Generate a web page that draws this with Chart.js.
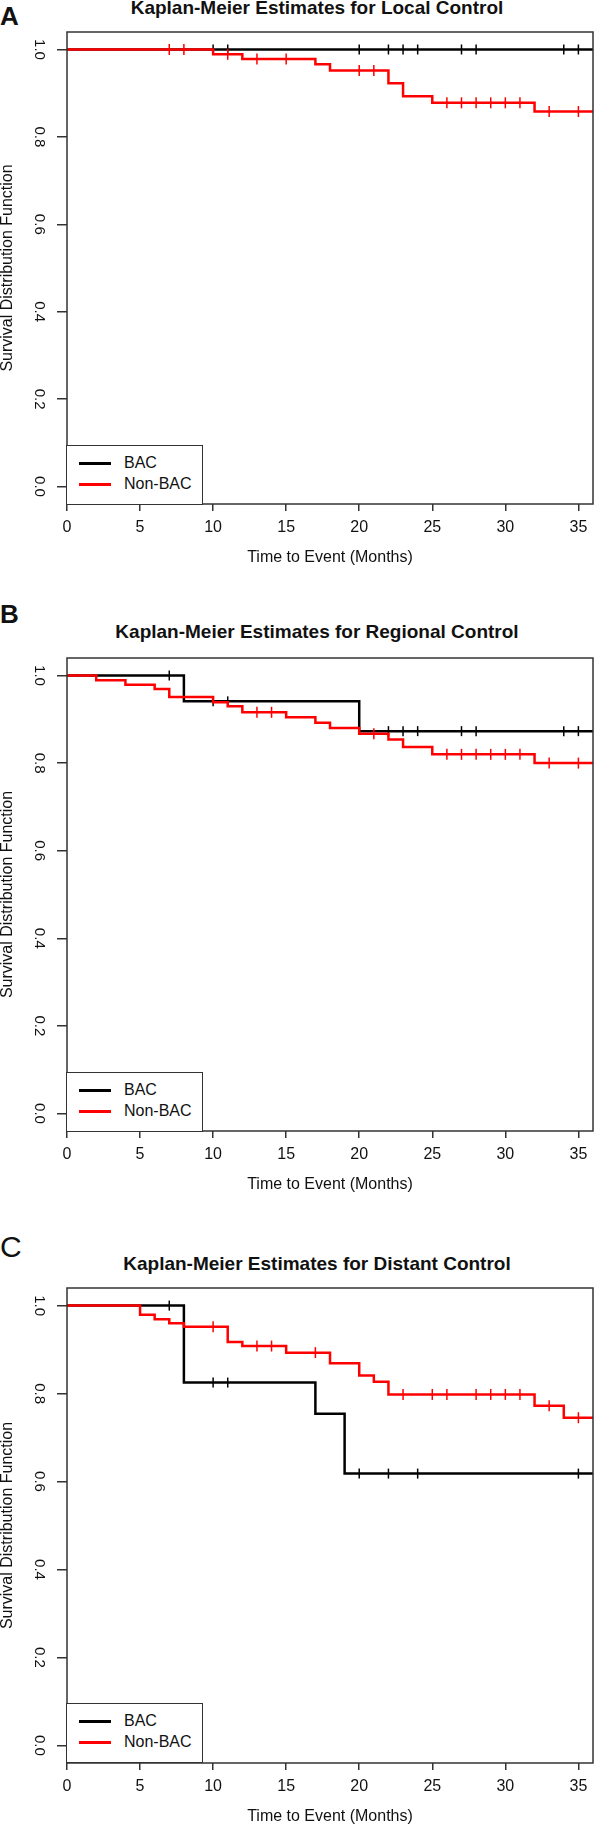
<!DOCTYPE html>
<html>
<head>
<meta charset="utf-8">
<script src="https://cdn.jsdelivr.net/npm/chart.js@4.4.1/dist/chart.umd.min.js"></script>
<style>
body{margin:0;background:#fff;}
#page{position:relative;width:600px;height:1826px;overflow:hidden;font-family:"Liberation Sans",Arial,sans-serif;color:#111;}
canvas{position:absolute;left:0;}
.letter{position:absolute;left:0;font-weight:bold;font-size:26px;line-height:26px;}
.ttl{position:absolute;left:17px;width:600px;text-align:center;font-size:19px;line-height:19px;font-weight:bold;white-space:nowrap;}
.leg{position:absolute;left:66px;width:137px;height:60px;border:1.5px solid #333;box-sizing:border-box;background:#fff;}
.sw{position:absolute;left:12px;width:32px;height:2.5px;}
.lt{position:absolute;left:57px;font-size:16px;line-height:16px;}
</style>
</head>
<body>
<div id="page">
  <div class="letter" style="top:3px;">A</div>
  <div class="ttl" style="top:-2px;">Kaplan-Meier Estimates for Local Control</div>
  <canvas id="chartA" width="600" height="567" style="top:0px;"></canvas>
  <div class="leg" style="top:445px;">
    <div class="sw" style="top:16px;background:#000;"></div><div class="lt" style="top:9px;">BAC</div>
    <div class="sw" style="top:37px;background:#ff0000;"></div><div class="lt" style="top:30px;">Non-BAC</div>
  </div>

  <div class="letter" style="top:601px;">B</div>
  <div class="ttl" style="top:622px;">Kaplan-Meier Estimates for Regional Control</div>
  <canvas id="chartB" width="600" height="594" style="top:600px;"></canvas>
  <div class="leg" style="top:1072px;">
    <div class="sw" style="top:16px;background:#000;"></div><div class="lt" style="top:9px;">BAC</div>
    <div class="sw" style="top:37px;background:#ff0000;"></div><div class="lt" style="top:30px;">Non-BAC</div>
  </div>

  <div class="letter" style="top:1232px;font-weight:normal;font-size:30px;line-height:30px;">C</div>
  <div class="ttl" style="top:1254px;">Kaplan-Meier Estimates for Distant Control</div>
  <canvas id="chartC" width="600" height="606" style="top:1220px;"></canvas>
  <div class="leg" style="top:1703px;">
    <div class="sw" style="top:16px;background:#000;"></div><div class="lt" style="top:9px;">BAC</div>
    <div class="sw" style="top:37px;background:#ff0000;"></div><div class="lt" style="top:30px;">Non-BAC</div>
  </div>
</div>

<script>
/*  Kaplan-Meier curves, BAC vs Non-BAC  */

const xTicks=[0,5,10,15,20,25,30,35];
const yTicks=[0,0.2,0.4,0.6,0.8,1.0];
const groups=["BAC","Non-BAC"];

// A - local control
const localBacTime=[0,36];
const localBacSurv=[1,1];
const localBacCens=[10,11,20,22,23,24,27,28,34,35];
const localNonTime=[0,10,12,17,18,22,23,25,32,36];
const localNonSurv=[1,0.989,0.978,0.966,0.952,0.923,0.893,0.878,0.858,0.858];
const localNonCens=[7,8,11,13,15,20,21,26,27,28,29,30,31,33,35];

// B - regional control
const regBacTime=[0,8,20,36];
const regBacSurv=[1,0.941,0.873,0.873];
const regBacCens=[7,10,11,22,23,24,27,28,34,35];
const regNonTime=[0,2,4,6,7,10,11,12,15,17,18,20,22,23,25,32,36];
const regNonSurv=[1,0.989,0.979,0.969,0.951,0.939,0.930,0.916,0.905,0.892,0.880,0.867,0.854,0.837,0.820,0.800,0.800];
const regNonCens=[13,14,21,26,27,28,29,30,31,33,35];

// C - distant control
const distBacTime=[0,8,17,19,36];
const distBacSurv=[1,0.825,0.754,0.618,0.618];
const distBacCens=[7,10,11,20,22,24,35];
const distNonTime=[0,5,6,7,8,11,12,15,18,20,21,22,32,34,36];
const distNonSurv=[1,0.979,0.969,0.960,0.952,0.917,0.908,0.893,0.869,0.841,0.827,0.798,0.772,0.745,0.745];
const distNonCens=[10,13,14,17,23,25,26,28,29,30,31,33,35];

const fam="'Liberation Sans', Arial, sans-serif";

function steps(time,surv){
  return time.map((t,i)=>({x:t,y:surv[i]}));
}

// censor mark sits on the curve value at that time
function marks(time,surv,cens){
  return cens.map(c=>{
    let v=surv[0];
    for(let i=0;i<time.length;i++){ if(time[i]<=c) v=surv[i]; }
    return {x:c,y:v};
  });
}

const boxPlugin={
  id:"box",
  afterDatasetsDraw(chart){
    const {ctx,chartArea:a}=chart;
    ctx.save();
    ctx.strokeStyle="#333";
    ctx.lineWidth=1.5;
    ctx.strokeRect(a.left,a.top,a.right-a.left,a.bottom-a.top);
    ctx.restore();
  }
};

function makePanel(id,padTop,bt,bs,bc,nt,ns,nc){

new Chart(document.getElementById(id),{

type:"line",

data:{
  datasets:[
    {label:groups[1],data:steps(nt,ns),stepped:true,borderColor:"#ff0000",borderWidth:2.5,pointRadius:0,order:1},
    {label:groups[1]+" censored",data:marks(nt,ns,nc),showLine:false,pointStyle:"line",pointRotation:90,pointRadius:5.5,pointBorderWidth:1.5,pointBorderColor:"#ff0000",borderColor:"#ff0000",order:0},
    {label:groups[0],data:steps(bt,bs),stepped:true,borderColor:"#000",borderWidth:2.5,pointRadius:0,order:3},
    {label:groups[0]+" censored",data:marks(bt,bs,bc),showLine:false,pointStyle:"line",pointRotation:90,pointRadius:5,pointBorderWidth:1.5,pointBorderColor:"#000",borderColor:"#000",order:2}
  ]
},

options:{
  responsive:false,
  animation:false,
  devicePixelRatio:1,
  events:[],
  layout:{padding:{top:padTop,right:1,left:0,bottom:0}},
  plugins:{
    legend:{display:false},
    tooltip:{enabled:false}
  },
  scales:{
    x:{
      type:"linear",
      min:0,
      max:36,
      afterBuildTicks:s=>{ s.ticks=xTicks.map(v=>({value:v})); },
      afterFit:s=>{ s.height=63; },
      grid:{drawOnChartArea:false,drawTicks:true,tickLength:7,color:"#333",lineWidth:1.5},
      border:{display:false},
      ticks:{padding:7,color:"#111",autoSkip:false,maxRotation:0,font:{family:fam,size:16},callback:v=>v},
      title:{display:true,text:"Time to Event (Months)",color:"#111",font:{family:fam,size:16,lineHeight:1.2},padding:{top:0,bottom:0}}
    },
    y:{
      type:"linear",
      min:-0.04,
      max:1.04,
      afterBuildTicks:s=>{ s.ticks=yTicks.map(v=>({value:v})); },
      afterFit:s=>{ s.width=67; },
      grid:{drawOnChartArea:false,drawTicks:true,tickLength:10,color:"#333",lineWidth:1.5},
      border:{display:false},
      ticks:{padding:7,color:"#111",autoSkip:false,minRotation:-90,maxRotation:-90,crossAlign:"center",font:{family:fam,size:15},callback:v=>v.toFixed(1)},
      title:{display:true,text:"Survival Distribution Function",color:"#111",font:{family:fam,size:16,lineHeight:1},padding:{top:0,bottom:0}}
    }
  }
},

plugins:[boxPlugin]

});

}

makePanel("chartA",32,localBacTime,localBacSurv,localBacCens,localNonTime,localNonSurv,localNonCens);
makePanel("chartB",58,regBacTime,regBacSurv,regBacCens,regNonTime,regNonSurv,regNonCens);
makePanel("chartC",68,distBacTime,distBacSurv,distBacCens,distNonTime,distNonSurv,distNonCens);
</script>
</body>
</html>
